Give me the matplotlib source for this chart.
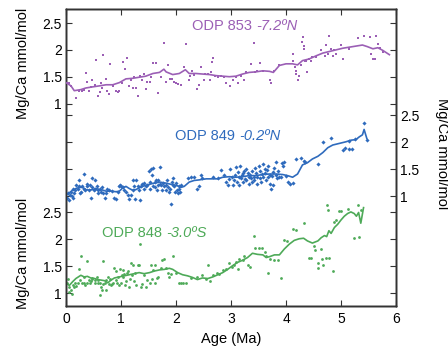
import numpy as np
import matplotlib
matplotlib.use("Agg")
import matplotlib.pyplot as plt

plt.rcParams['font.family'] = ['Liberation Sans', 'DejaVu Sans']

# ---------------------------------------------------------------------
# Data
# ---------------------------------------------------------------------
# ODP 853 (top, purple)
age_853_line = [0.0, 0.09, 0.15, 0.27, 0.36, 0.48, 0.61, 0.73, 0.85, 0.97, 1.09, 1.21, 1.33, 1.45,
                1.58, 1.70, 1.78, 1.82, 1.94, 2.06, 2.17, 2.24, 2.36, 2.48, 2.61, 2.73, 2.85, 2.97,
                3.09, 3.21, 3.33, 3.45, 3.58, 3.70, 3.77, 3.88, 4.00, 4.12, 4.21, 4.30, 4.42, 4.55,
                4.67, 4.79, 4.91, 5.03, 5.15, 5.27, 5.39, 5.48, 5.58, 5.67, 5.76, 5.88]
mg_853_line = [1.39, 1.33, 1.24, 1.26, 1.29, 1.31, 1.33, 1.35, 1.35, 1.39, 1.46, 1.47, 1.49, 1.51,
               1.56, 1.58, 1.64, 1.59, 1.54, 1.56, 1.63, 1.56, 1.56, 1.55, 1.54, 1.52, 1.51, 1.50,
               1.51, 1.55, 1.58, 1.59, 1.61, 1.60, 1.58, 1.71, 1.74, 1.74, 1.72, 1.80, 1.83, 1.89,
               1.94, 1.97, 2.00, 2.03, 2.05, 2.07, 2.09, 2.06, 2.02, 2.04, 1.99, 1.91]
age_853_pts = [0.03, 0.06, 0.09, 0.18, 0.24, 0.29, 0.33, 0.36, 0.39, 0.42,
               0.45, 0.48, 0.52, 0.55, 0.58, 0.61, 0.64, 0.65, 0.68, 0.72,
               0.74, 0.78, 0.80, 0.85, 0.90, 0.94, 0.97, 1.02, 1.04, 1.08,
               1.10, 1.15, 1.18, 1.21, 1.24, 1.27, 1.30, 1.35, 1.38, 1.42,
               1.45, 1.48, 1.52, 1.55, 1.59, 1.64, 1.68, 1.73, 1.78, 1.82,
               1.85, 1.89, 1.93, 1.97, 2.00, 2.03, 2.09, 2.15, 2.19, 2.23,
               2.25, 2.29, 2.33, 2.38, 2.41, 2.45, 2.50, 2.53, 2.58, 2.62,
               2.64, 2.67, 2.65, 2.70, 2.76, 2.82, 2.88, 2.91, 2.98, 3.03,
               3.09, 3.12, 3.18, 3.24, 3.27, 3.36, 3.41, 3.44, 3.48, 3.52,
               3.58, 3.70, 3.73, 3.79, 3.88, 4.12, 4.13, 4.17, 4.18, 4.19,
               4.21, 4.24, 4.27, 4.29, 4.30, 4.32, 4.33, 4.35, 4.36, 4.38,
               4.41, 4.45, 4.48, 4.55, 4.64, 4.70, 4.73, 4.76, 4.79, 4.82,
               4.85, 4.88, 4.91, 5.00, 5.03, 5.15, 5.30, 5.42, 5.53, 5.55,
               5.58, 5.62, 5.64, 5.67, 5.70, 5.76]
mg_853_pts = [1.39, 1.38, 1.33, 1.10, 1.24, 1.23, 1.25, 1.56, 1.41, 1.24,
              1.31, 1.43, 1.35, 1.81, 1.14, 1.21, 1.39, 1.29, 1.91, 1.46,
              1.24, 1.18, 1.73, 1.33, 1.24, 1.21, 1.24, 1.38, 1.77, 1.64,
              1.85, 1.33, 1.43, 1.29, 1.49, 1.29, 1.14, 1.52, 1.43, 1.55,
              1.27, 1.41, 1.41, 1.49, 1.75, 1.75, 1.19, 1.49, 2.13, 1.41,
              1.71, 1.46, 1.46, 1.41, 1.38, 1.36, 1.35, 1.68, 2.10, 1.43,
              1.52, 1.60, 1.54, 1.27, 1.35, 1.69, 1.43, 1.55, 1.55, 1.43,
              1.58, 1.85, 1.77, 1.52, 1.50, 1.52, 1.49, 1.38, 1.33, 1.43,
              1.49, 1.39, 1.52, 1.43, 1.58, 1.74, 2.13, 1.58, 1.61, 1.75,
              1.61, 1.43, 1.39, 1.61, 1.71, 1.93, 1.79, 1.68, 1.55, 1.61,
              1.43, 1.52, 1.71, 2.14, 2.24, 2.08, 2.02, 1.80, 1.80, 1.58,
              1.83, 1.80, 1.86, 1.86, 1.99, 1.89, 2.09, 1.93, 2.26, 2.02,
              1.89, 1.99, 1.93, 2.09, 1.83, 2.02, 2.23, 2.26, 2.24, 1.93,
              1.83, 1.83, 2.26, 2.11, 2.04, 1.96]

# ODP 849 (middle, blue)
age_849_line = [0.0, 0.06, 0.12, 0.18, 0.24, 0.30, 0.36, 0.42, 0.48, 0.55, 0.61, 0.67, 0.73, 0.82,
                0.91, 0.97, 1.03, 1.09, 1.15, 1.21, 1.27, 1.33, 1.42, 1.52, 1.61, 1.70, 1.82, 1.94,
                2.03, 2.09, 2.15, 2.24, 2.33, 2.42, 2.55, 2.67, 2.76, 2.85, 2.97, 3.09, 3.21, 3.33,
                3.45, 3.58, 3.70, 3.82, 3.94, 4.03, 4.12, 4.21, 4.30, 4.39, 4.48, 4.58, 4.67, 4.76,
                4.85, 4.97, 5.09, 5.18, 5.27, 5.33, 5.39, 5.42, 5.47]
mg_849_line = [1.02, 1.06, 1.11, 1.14, 1.16, 1.16, 1.12, 1.11, 1.12, 1.14, 1.12, 1.11, 1.09, 1.09,
               1.08, 1.09, 1.15, 1.18, 1.14, 1.11, 1.12, 1.15, 1.19, 1.22, 1.24, 1.26, 1.24, 1.21,
               1.19, 1.16, 1.18, 1.26, 1.29, 1.30, 1.32, 1.32, 1.32, 1.35, 1.36, 1.35, 1.36, 1.38,
               1.38, 1.40, 1.41, 1.41, 1.40, 1.38, 1.35, 1.41, 1.58, 1.62, 1.69, 1.74, 1.81, 1.90,
               1.95, 1.98, 2.01, 2.04, 2.05, 2.10, 2.14, 2.24, 2.07]
age_849_pts = [0.01, 0.03, 0.05, 0.07, 0.09, 0.11, 0.12, 0.13, 0.15, 0.17,
               0.19, 0.21, 0.23, 0.24, 0.25, 0.27, 0.29, 0.32, 0.33, 0.35,
               0.38, 0.39, 0.41, 0.44, 0.45, 0.47, 0.48, 0.50, 0.52, 0.53,
               0.56, 0.58, 0.59, 0.62, 0.64, 0.65, 0.68, 0.70, 0.72, 0.74,
               0.78, 0.84, 0.88, 0.91, 0.94, 0.97, 0.98, 1.00, 1.03, 1.06,
               1.09, 1.12, 1.15, 1.18, 1.21, 1.22, 1.24, 1.26, 1.28, 1.30,
               1.32, 1.35, 1.36, 1.38, 1.41, 1.42, 1.45, 1.48, 1.50, 1.52,
               1.53, 1.55, 1.56, 1.58, 1.59, 1.61, 1.62, 1.64, 1.65, 1.67,
               1.68, 1.70, 1.71, 1.73, 1.75, 1.76, 1.79, 1.81, 1.82, 1.83,
               1.85, 1.87, 1.89, 1.91, 1.93, 1.94, 1.95, 1.97, 1.99, 2.00,
               2.01, 2.03, 2.05, 2.06, 2.07, 2.09, 2.21, 2.27, 2.33, 2.39,
               2.42, 2.45, 2.48, 2.67, 2.76, 2.82, 2.88, 2.91, 2.94, 2.97,
               2.98, 3.02, 3.04, 3.06, 3.08, 3.09, 3.10, 3.12, 3.14, 3.15,
               3.16, 3.18, 3.20, 3.21, 3.22, 3.24, 3.26, 3.27, 3.28, 3.30,
               3.32, 3.33, 3.35, 3.36, 3.38, 3.39, 3.41, 3.42, 3.44, 3.45,
               3.47, 3.48, 3.50, 3.52, 3.53, 3.55, 3.56, 3.58, 3.59, 3.61,
               3.62, 3.64, 3.65, 3.67, 3.68, 3.70, 3.71, 3.73, 3.75, 3.76,
               3.77, 3.79, 3.81, 3.82, 3.83, 3.85, 3.88, 3.91, 3.93, 3.95,
               3.97, 4.00, 4.03, 4.07, 4.12, 4.19, 4.27, 4.32, 4.35, 4.58,
               4.67, 4.82, 5.03, 5.08, 5.14, 5.15, 5.20, 5.26, 5.41, 5.47]
mg_849_pts = [0.97, 1.05, 0.93, 1.02, 1.08, 1.00, 1.14, 0.96, 1.06, 1.11,
              1.21, 1.13, 1.29, 1.18, 1.05, 1.08, 1.19, 1.14, 1.41, 1.11,
              1.23, 1.19, 1.11, 1.21, 0.97, 1.16, 1.33, 1.11, 1.30, 1.13,
              1.19, 1.05, 1.11, 1.13, 1.08, 1.16, 1.05, 0.97, 1.06, 1.13,
              1.11, 1.10, 0.96, 0.94, 1.08, 1.18, 1.21, 1.19, 1.16, 1.11,
              1.08, 1.02, 0.94, 1.02, 1.11, 1.30, 1.18, 0.94, 1.30, 1.19,
              1.11, 0.93, 1.18, 1.23, 1.13, 1.25, 1.19, 1.21, 1.46, 1.14,
              1.27, 1.50, 1.39, 1.19, 1.52, 1.27, 1.16, 1.30, 1.11, 1.21,
              1.29, 1.23, 1.54, 1.21, 1.11, 1.25, 1.18, 1.21, 1.11, 1.29,
              1.16, 1.08, 1.13, 0.85, 1.27, 1.21, 1.33, 1.18, 1.08, 1.25,
              1.11, 1.05, 1.18, 1.14, 1.08, 1.21, 1.33, 1.36, 1.36, 1.14,
              1.18, 1.39, 1.33, 1.36, 1.33, 1.48, 1.39, 1.27, 1.21, 1.31,
              1.50, 1.36, 1.21, 1.30, 1.39, 1.54, 1.27, 1.44, 1.36, 1.21,
              1.55, 1.33, 1.39, 1.27, 1.43, 1.46, 1.31, 1.50, 1.29, 1.43,
              1.36, 1.23, 1.39, 1.33, 1.27, 1.46, 1.36, 1.30, 1.52, 1.43,
              1.23, 1.36, 1.56, 1.46, 1.33, 1.27, 1.41, 1.60, 1.36, 1.50,
              1.43, 1.30, 1.49, 1.56, 1.36, 1.39, 1.23, 1.14, 1.38, 1.44,
              1.21, 1.52, 1.64, 1.39, 1.33, 1.46, 1.36, 1.36, 1.61, 1.56,
              1.63, 1.38, 1.27, 1.23, 1.25, 1.69, 1.71, 1.66, 1.63, 1.60,
              2.00, 2.08, 1.85, 1.89, 2.02, 1.88, 1.88, 2.06, 2.36, 2.04]

# ODP 848 (bottom, green)
age_848_line = [0.0, 0.06, 0.12, 0.18, 0.27, 0.33, 0.39, 0.45, 0.52, 0.58, 0.64, 0.70, 0.76, 0.82,
                0.88, 0.97, 1.06, 1.15, 1.24, 1.33, 1.42, 1.52, 1.61, 1.70, 1.79, 1.88, 1.94, 2.03,
                2.12, 2.21, 2.30, 2.39, 2.48, 2.58, 2.67, 2.76, 2.85, 2.94, 3.03, 3.12, 3.21, 3.30,
                3.39, 3.48, 3.58, 3.64, 3.71, 3.79, 3.88, 3.97, 4.06, 4.15, 4.24, 4.32, 4.39, 4.48,
                4.58, 4.64, 4.70, 4.74, 4.78, 4.82, 4.88, 4.94, 5.00, 5.06, 5.12, 5.18, 5.24, 5.28,
                5.32, 5.36, 5.41]
mg_848_line = [1.19, 1.14, 1.21, 1.27, 1.33, 1.30, 1.31, 1.28, 1.27, 1.25, 1.24, 1.23, 1.19, 1.24,
               1.28, 1.30, 1.32, 1.34, 1.36, 1.38, 1.36, 1.38, 1.41, 1.43, 1.44, 1.46, 1.44, 1.38,
               1.34, 1.32, 1.29, 1.25, 1.28, 1.27, 1.30, 1.34, 1.38, 1.44, 1.51, 1.57, 1.61, 1.66,
               1.74, 1.72, 1.71, 1.66, 1.68, 1.71, 1.71, 1.82, 1.91, 1.98, 2.01, 2.02, 1.97, 1.93,
               1.97, 2.03, 2.07, 2.05, 2.16, 2.11, 2.22, 2.28, 2.36, 2.43, 2.48, 2.51, 2.48, 2.43,
               2.50, 2.30, 2.59]
age_848_pts = [0.01, 0.03, 0.05, 0.06, 0.09, 0.11, 0.12, 0.15, 0.17, 0.19,
               0.21, 0.24, 0.25, 0.27, 0.29, 0.32, 0.33, 0.35, 0.38, 0.39,
               0.41, 0.44, 0.45, 0.47, 0.48, 0.52, 0.53, 0.56, 0.58, 0.59,
               0.61, 0.62, 0.64, 0.65, 0.67, 0.68, 0.70, 0.72, 0.73, 0.76,
               0.78, 0.80, 0.82, 0.84, 0.86, 0.88, 0.90, 0.91, 0.92, 0.94,
               0.96, 0.98, 1.00, 1.02, 1.03, 1.04, 1.06, 1.08, 1.09, 1.10,
               1.12, 1.14, 1.16, 1.18, 1.20, 1.21, 1.24, 1.26, 1.28, 1.30,
               1.32, 1.35, 1.36, 1.39, 1.42, 1.45, 1.48, 1.52, 1.55, 1.56,
               1.59, 1.61, 1.62, 1.65, 1.68, 1.73, 1.75, 1.79, 1.82, 1.85,
               1.88, 1.91, 1.95, 2.00, 2.06, 2.09, 2.13, 2.18, 2.27, 2.39,
               2.48, 2.55, 2.58, 2.62, 2.67, 2.74, 2.79, 2.85, 2.91, 2.97,
               3.02, 3.06, 3.09, 3.12, 3.15, 3.21, 3.24, 3.30, 3.35, 3.41,
               3.44, 3.50, 3.56, 3.61, 3.64, 3.67, 3.71, 3.79, 3.85, 3.91,
               3.97, 4.01, 4.12, 4.19, 4.33, 4.42, 4.45, 4.50, 4.53, 4.58,
               4.59, 4.64, 4.65, 4.68, 4.72, 4.79, 4.85, 4.74, 4.76, 4.88,
               4.91, 4.97, 5.00, 5.12, 5.24, 5.30, 5.33, 5.36]
mg_848_pts = [1.19, 1.27, 1.11, 1.02, 1.05, 0.99, 1.14, 1.11, 1.18, 1.13,
              1.19, 1.44, 1.24, 1.69, 1.18, 1.19, 1.30, 1.14, 1.19, 1.59,
              1.24, 1.18, 1.22, 1.27, 1.28, 1.24, 1.19, 1.30, 1.18, 1.24,
              0.96, 1.19, 1.11, 1.05, 1.59, 1.16, 1.19, 1.05, 1.24, 1.30,
              1.16, 1.26, 1.14, 1.16, 1.19, 1.46, 1.24, 1.41, 1.19, 1.30,
              1.14, 1.44, 1.19, 1.34, 1.43, 1.30, 1.36, 1.14, 1.22, 1.38,
              1.41, 1.11, 1.27, 1.55, 1.33, 1.52, 1.22, 1.38, 1.14, 1.52,
              1.53, 1.91, 1.11, 1.16, 1.34, 1.11, 1.24, 1.18, 1.52, 1.27,
              1.43, 1.52, 1.19, 1.28, 1.30, 1.47, 1.61, 1.63, 1.47, 1.38,
              1.30, 1.36, 1.68, 1.38, 1.19, 1.18, 1.19, 1.18, 1.28, 1.30,
              1.33, 1.27, 1.53, 1.22, 1.33, 1.38, 1.36, 1.43, 1.44, 1.55,
              1.49, 1.53, 1.58, 1.44, 1.63, 1.61, 1.69, 1.52, 1.49, 2.07,
              1.84, 1.84, 1.84, 1.77, 1.68, 1.38, 1.63, 1.61, 1.61, 1.28,
              1.99, 1.96, 2.19, 2.18, 2.30, 1.66, 1.66, 1.88, 1.80, 1.55,
              1.46, 1.82, 1.63, 1.52, 1.66, 1.66, 1.41, 2.64, 2.55, 2.32,
              2.36, 2.53, 2.53, 2.57, 2.03, 2.63, 2.05, 2.55]

# colours
c853 = '#9b5fb5'
c849 = '#2f6bbd'
c848 = '#4eaa58'
spine_col = '#333333'

# ---------------------------------------------------------------------
# Figure: three stacked y scales inside one box
# ---------------------------------------------------------------------
W, H = 448, 349
fig = plt.figure(figsize=(W / 100, H / 100), dpi=100)
box = [66 / W, 1 - 306 / H, 330 / W, 297 / H]

ax_bot = fig.add_axes(box)
ax_mid = ax_bot.twinx()
ax_top = ax_bot.twinx()

ax_bot.set_ylim(0.758, 6.289)
ax_mid.set_ylim(-1.048, 4.483)
ax_top.set_ylim(-2.77, 2.761)

ticks = [1, 1.5, 2, 2.5]
labels = ['1', '1.5', '2', '2.5']
for ax in (ax_bot, ax_mid, ax_top):
    ax.set_xlim(0, 6)
    ax.set_yticks(ticks)
    ax.set_yticklabels(labels)
    ax.tick_params(axis='y', direction='in', left=True, right=True, length=4,
                   width=0.8, labelsize=10, pad=3, color=spine_col)
    for s in ax.spines.values():
        s.set_color(spine_col)
        s.set_linewidth(1.0)

ax_bot.tick_params(axis='y', labelleft=True, labelright=False)
ax_mid.tick_params(axis='y', labelleft=False, labelright=True)
ax_top.tick_params(axis='y', labelleft=True, labelright=False)

ax_bot.set_xticks(range(7))
ax_bot.tick_params(axis='x', direction='in', top=True, bottom=True, length=4,
                   width=0.8, labelsize=10, pad=4, color=spine_col)
ax_bot.set_xlabel('Age (Ma)', fontsize=10.5, labelpad=5)

# series
ax_top.scatter(age_853_pts, mg_853_pts, s=4, marker='s', color=c853, linewidths=0, zorder=3)
ax_top.plot(age_853_line, mg_853_line, color=c853, lw=1.2, zorder=4)

ax_mid.scatter(age_849_pts, mg_849_pts, s=4.5, marker='D', color=c849, linewidths=0, zorder=3)
ax_mid.plot(age_849_line, mg_849_line, color=c849, lw=1.2, zorder=4)

ax_bot.scatter(age_848_pts, mg_848_pts, s=4, marker='o', color=c848, linewidths=0, zorder=3)
ax_bot.plot(age_848_line, mg_848_line, color=c848, lw=1.2, zorder=4)

# site labels: upright site name, italic latitude
def site_label(ax, x, y, name, lat, color):
    t = ax.text(x, y, name, transform=ax.transAxes, fontsize=10.5, color=color,
                ha='left', va='center')
    ax.annotate(lat, xy=(1, 0.5), xycoords=t, fontsize=10.5, color=color,
                ha='left', va='center', style='italic')

site_label(ax_top, 0.382, 0.943, 'ODP 853 ', '-7.2ºN', c853)
site_label(ax_mid, 0.330, 0.572, 'ODP 849 ', '-0.2ºN', c849)
site_label(ax_bot, 0.109, 0.246, 'ODP 848 ', '-3.0ºS', c848)

# y labels
fig.text(23 / W, 1 - 63 / H, 'Mg/Ca mmol/mol', rotation=90, fontsize=10.5,
         ha='center', va='center')
fig.text(23 / W, 1 - 253 / H, 'Mg/Ca mmol/mol', rotation=90, fontsize=10.5,
         ha='center', va='center')
fig.text(442 / W, 1 - 154 / H, 'Mg/Ca mmol/mol', rotation=270, fontsize=10.5,
         ha='center', va='center')

fig.savefig('out.png', dpi=100)
